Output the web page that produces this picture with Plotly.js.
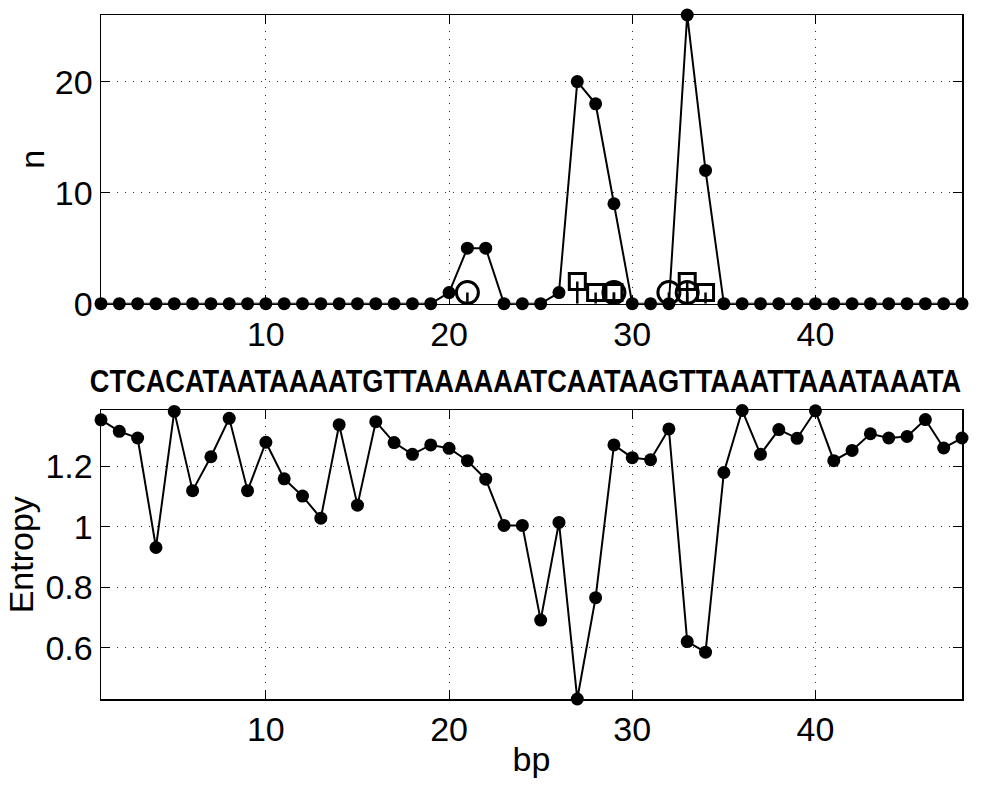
<!DOCTYPE html>
<html><head><meta charset="utf-8">
<script src="https://cdn.plot.ly/plotly-3.0.1.min.js"></script>
<style>html,body{margin:0;padding:0;background:#fff}</style>
</head><body>
<div id="chart" style="width:984px;height:786px"></div>
<script>
// ---- data ----
const bp = [1,2,3,4,5,6,7,8,9,10,11,12,13,14,15,16,17,18,19,20,21,22,23,24,25,26,27,28,29,30,31,32,33,34,35,36,37,38,39,40,41,42,43,44,45,46,47,48];
const nCounts = [0,0,0,0,0,0,0,0,0,0,0,0,0,0,0,0,0,0,0,1,5,5,0,0,0,1,20,18,9,0,0,0,26,12,0,0,0,0,0,0,0,0,0,0,0,0,0,0];
const circleBp = [21,29,32,33];
const circleN = [1,1,1,1];
const squareBp = [27,28,29,33,34];
const squareN = [2,1,1,2,1];
const entropy = [1.354,1.316,1.294,0.932,1.382,1.120,1.232,1.359,1.120,1.280,
                 1.159,1.102,1.029,1.338,1.072,1.348,1.279,1.240,1.271,1.260,
                 1.219,1.158,1.005,1.005,0.692,1.015,0.431,0.766,1.271,1.229,
                 1.222,1.324,0.621,0.586,1.180,1.385,1.240,1.322,1.293,1.384,
                 1.219,1.253,1.308,1.294,1.299,1.355,1.261,1.294];
const sequence = "CTCACATAATAAAATGTTAAAAAATCAATAAGTTAAATTAAATAAATA";
const xTickVals = [10,20,30,40];
const nTickVals = [0,10,20];
const entropyTickVals = [0.6,0.8,1,1.2];
const entropyTickText = ["0.6","0.8","1","1.2"];

// ---- styling ----
const FONT = 'Arial, "Liberation Sans", sans-serif';
const fs = 34;
function axisBase(){
  return {
    showline:true, linecolor:'black', linewidth:1.5, mirror:'ticks',
    ticks:'inside', ticklen:9, tickwidth:1, tickcolor:'black',
    showgrid:true, gridcolor:'#333', gridwidth:1, griddash:'1px,7px',
    zeroline:false, tickfont:{family:FONT, size:fs, color:'black'},
    fixedrange:true
  };
}
const zeros = (a)=>a.map(()=>0);

const traces = [
  {x:bp, y:nCounts, xaxis:'x', yaxis:'y', type:'scatter', mode:'lines+markers',
   line:{color:'black', width:2}, marker:{color:'black', size:13, symbol:'circle'},
   cliponaxis:false, hoverinfo:'skip'},
  {x:circleBp, y:circleN, xaxis:'x', yaxis:'y', type:'scatter', mode:'markers',
   marker:{symbol:'circle-open', size:22, color:'black', line:{width:3, color:'black'}},
   error_y:{type:'data', symmetric:false, array:zeros(circleN), arrayminus:circleN, width:0, thickness:2.5, color:'black'},
   cliponaxis:false, hoverinfo:'skip'},
  {x:squareBp, y:squareN, xaxis:'x', yaxis:'y', type:'scatter', mode:'markers',
   marker:{symbol:'square-open', size:16, color:'black', line:{width:3, color:'black'}},
   error_y:{type:'data', symmetric:false, array:zeros(squareN), arrayminus:squareN, width:0, thickness:2.5, color:'black'},
   cliponaxis:false, hoverinfo:'skip'},
  {x:bp, y:entropy, xaxis:'x2', yaxis:'y2', type:'scatter', mode:'lines+markers',
   line:{color:'black', width:2}, marker:{color:'black', size:13, symbol:'circle'},
   cliponaxis:false, hoverinfo:'skip'}
];

const xr = [Math.min(...bp), Math.max(...bp)];
const layout = {
  width:984, height:786, showlegend:false,
  paper_bgcolor:'white', plot_bgcolor:'white',
  margin:{l:101, r:22, t:15, b:87},
  font:{family:FONT, color:'black'},
  xaxis: Object.assign(axisBase(), {domain:[0,1], anchor:'y', range:xr, tickmode:'array', tickvals:xTickVals}),
  yaxis: Object.assign(axisBase(), {domain:[0.578,1], anchor:'x', range:[Math.min(...nCounts), Math.max(...nCounts)],
          tickmode:'array', tickvals:nTickVals,
          title:{text:'n', font:{family:FONT, size:fs, color:'black'}, standoff:0}}),
  xaxis2: Object.assign(axisBase(), {domain:[0,1], anchor:'y2', range:xr, tickmode:'array', tickvals:xTickVals,
          title:{text:'bp', font:{family:FONT, size:fs, color:'black'}, standoff:0}}),
  yaxis2: Object.assign(axisBase(), {domain:[0,0.4218], anchor:'x2', range:[Math.min(...entropy), Math.max(...entropy)],
          tickmode:'array', tickvals:entropyTickVals, ticktext:entropyTickText,
          title:{text:'Entropy', font:{family:FONT, size:fs, color:'black'}, standoff:1}}),
  annotations:[{
    text:sequence, xref:'paper', yref:'paper', x:0.4936, y:0.4649,
    xanchor:'center', yanchor:'middle', showarrow:false,
    font:{family:FONT, size:32, color:'black', weight:'bold'}
  }]
};

Plotly.newPlot('chart', traces, layout, {staticPlot:true, displayModeBar:false}).then(function(){
  document.querySelectorAll('.annotation-text').forEach(function(el){
    if (el.textContent === sequence) {
      const len = el.getComputedTextLength();
      const s = 872 / len;
      el.style.transformBox = 'fill-box';
      el.style.transformOrigin = 'center';
      el.style.transform = 'scaleX(' + s.toFixed(4) + ')';
    }
  });
});
</script>
</body></html>
